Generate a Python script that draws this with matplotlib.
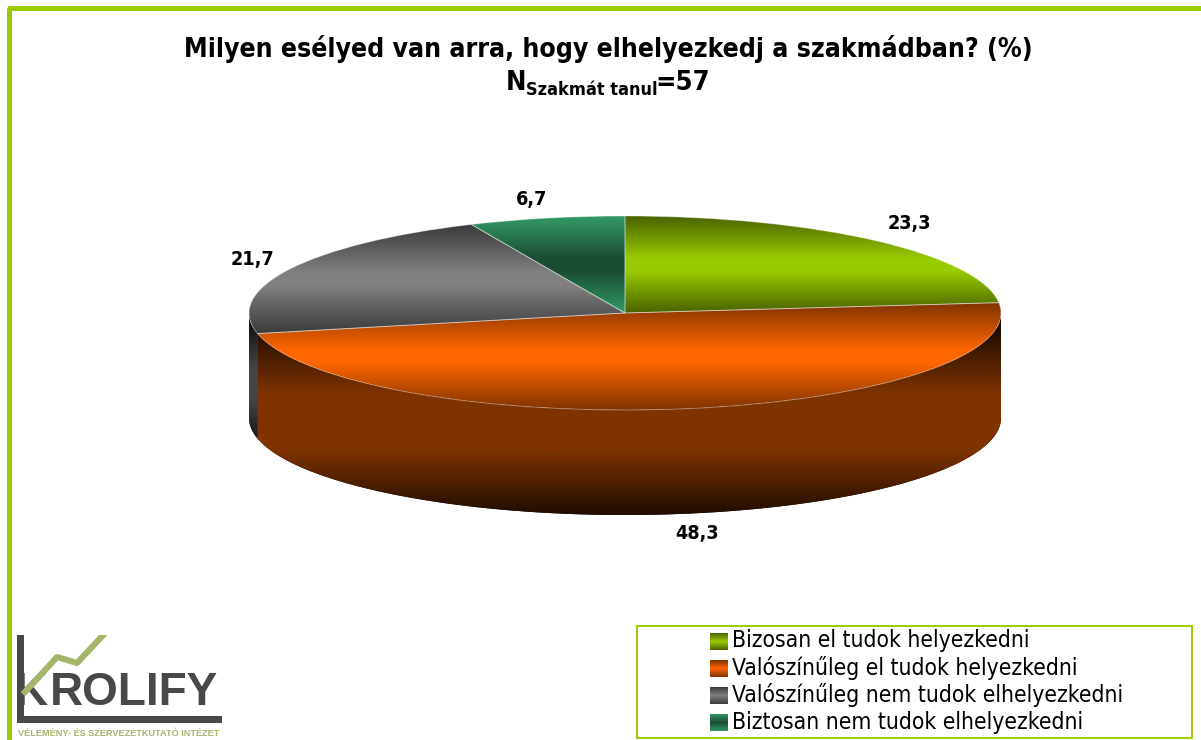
import numpy as np
import matplotlib
matplotlib.use("Agg")
import matplotlib.pyplot as plt
from matplotlib.colors import LinearSegmentedColormap
from matplotlib.patches import PathPatch, Polygon, Rectangle, Wedge
from matplotlib.path import Path
from matplotlib.transforms import Affine2D

plt.rcParams['font.family'] = ['DejaVu Sans']
plt.rcParams['font.stretch'] = 'condensed'

categories = ["Bizosan el tudok helyezkedni", "Valószínűleg el tudok helyezkedni",
              "Valószínűleg nem tudok elhelyezkedni", "Biztosan nem tudok elhelyezkedni"]
values = [23.3, 48.3, 21.7, 6.7]
value_labels = ["23,3", "48,3", "21,7", "6,7"]
label_pos = [(909, 223), (697, 533), (253, 260), (532, 199)]

# edge / middle colours of the top face gradients
top_colors = [("#4a6300", "#99cc00"), ("#7f3300", "#ff6600"), ("#3a3a3a", "#808080"), ("#339966", "#1a4d33")]
side_colors = [("#4a6300", "#4a6300"), ("#1f0c00", "#7f3300"), ("#161616", "#444444"), ("#1a4d33", "#1a4d33")]

CX, CY, RX, RY, DEPTH = 625, 313, 376, 97, 105
GREEN = "#99cc00"
LOGO_DARK = "#4a4747"
LOGO_GREEN = "#a4b56c"


def band_image(ax, c_edge, c_mid, y0, y1, x0=0, x1=1201, clip=None, flat=0.0):
    # 0 at both edges, 1 in the middle, with an optional flat part
    grad = 1 - np.abs(np.linspace(-1, 1, 256))
    grad = np.clip(grad / (1 - flat), 0, 1).reshape(-1, 1)
    im = ax.imshow(grad, cmap=LinearSegmentedColormap.from_list("band", [c_edge, c_mid]),
                   extent=(x0, x1, y1, y0), aspect="auto", zorder=2, interpolation="bilinear")
    if clip is not None:
        im.set_clip_path(clip)
    return im


def ellipse_pt(frac):
    a = 2 * np.pi * np.asarray(frac)
    return CX + RX * np.sin(a), CY - RY * np.cos(a)


fig = plt.figure(figsize=(12.01, 7.40), dpi=100)
ax = fig.add_axes([0, 0, 1, 1])
ax.set_xlim(0, 1201)
ax.set_ylim(740, 0)
ax.axis("off")

# frame
ax.add_patch(PathPatch(Path([(9.5, 740), (9.5, 10), (10, 8.5), (12, 8.5), (1201, 8.5)]),
                       fill=False, ec=GREEN, lw=3.6, zorder=1))

total = sum(values)
bounds = np.cumsum([0] + values) / total

# sides first, only the part of the rim that faces us
for i in range(4):
    lo, hi = max(bounds[i], 0.25), min(bounds[i + 1], 0.75)
    if hi <= lo:
        continue
    t = np.linspace(lo, hi, 200)
    x, y = ellipse_pt(t)
    pts = np.r_[np.c_[x, y], np.c_[x, y + DEPTH][::-1]]
    side = Polygon(pts, closed=True, fc=side_colors[i][0], ec="none", zorder=1.5)
    ax.add_patch(side)
    band_image(ax, side_colors[i][0], side_colors[i][1], y.min() + 15, y.max() + DEPTH, clip=side, flat=0.3)

# top face
for i in range(4):
    th1 = 90 - 360 * bounds[i + 1]
    th2 = 90 - 360 * bounds[i]
    tr = Affine2D().scale(RX, -RY).translate(CX, CY) + ax.transData
    w = Wedge((0, 0), 1, th1, th2, fc="none", ec="none", transform=tr)
    ax.add_patch(w)
    x, y = ellipse_pt(np.linspace(bounds[i], bounds[i + 1], 200))
    y0, y1 = min(y.min(), CY), max(y.max(), CY)
    band_image(ax, top_colors[i][0], top_colors[i][1], y0, y1, clip=w, flat=0.12)
    ax.add_patch(Wedge((0, 0), 1, th1, th2, fc="none", ec="#ffffff", alpha=0.35, lw=0.7, transform=tr, zorder=3))

for lab, (lx, ly) in zip(value_labels, label_pos):
    ax.text(lx, ly, lab, ha="center", va="center", fontsize=14.2, fontweight="bold", color="black", zorder=5)

# title
ax.text(608, 49, "Milyen esélyed van arra, hogy elhelyezkedj a szakmádban? (%)", ha="center", va="center",
        fontsize=19.05, fontweight="bold")
ax.text(506, 90, "N", ha="left", va="baseline", fontsize=19.5, fontweight="bold")
ax.text(526, 95, "Szakmát tanul", ha="left", va="baseline", fontsize=13, fontweight="bold")
ax.text(655, 90, "=57", ha="left", va="baseline", fontsize=19.5, fontweight="bold")

# legend
ax.add_patch(Rectangle((636.5, 625.5), 555, 112, fc="white", ec=GREEN, lw=1.4, zorder=1))
for i, name in enumerate(categories):
    yc = 641 + i * 27
    sw = Rectangle((710, yc - 8), 18, 17, fc="none", ec="none")
    ax.add_patch(sw)
    band_image(ax, top_colors[i][0], top_colors[i][1], yc - 8, yc + 9, 710, 728, clip=sw)
    ax.text(732, yc, name, ha="left", va="center", fontsize=16.4, color="black", zorder=5)

# logo
ax.add_patch(Rectangle((17, 635), 7, 88, fc=LOGO_DARK, ec="none", zorder=3))
ax.add_patch(Rectangle((17, 716), 205, 7, fc=LOGO_DARK, ec="none", zorder=3))
ax.text(50, 693, "ROLIFY", ha="left", va="center", fontsize=33, fontweight="bold", family="Liberation Sans",
        stretch="normal", color=LOGO_DARK, zorder=3)
k_clip = Rectangle((10, 692), 60, 20, fc="none", ec="none")
ax.add_patch(k_clip)
k = ax.text(15, 693, "K", ha="left", va="center", fontsize=33, fontweight="bold", family="Liberation Sans",
            stretch="normal", color=LOGO_DARK, zorder=2)
k.set_clip_path(k_clip)
swoosh, = ax.plot([25, 57, 77, 107], [692, 657, 663, 631], color=LOGO_GREEN, lw=4.4, solid_joinstyle="round", zorder=4)
swoosh_clip = Rectangle((10, 635), 110, 70, fc="none", ec="none")
ax.add_patch(swoosh_clip)
swoosh.set_clip_path(swoosh_clip)
ax.text(18, 733, "VÉLEMÉNY- ÉS SZERVEZETKUTATÓ INTÉZET", ha="left", va="center", fontsize=6.6,
        fontweight="bold", family="Liberation Sans", stretch="normal", color=LOGO_GREEN)

ax.set_xlim(0, 1201)
ax.set_ylim(740, 0)
fig.savefig("out.png", dpi=100)
